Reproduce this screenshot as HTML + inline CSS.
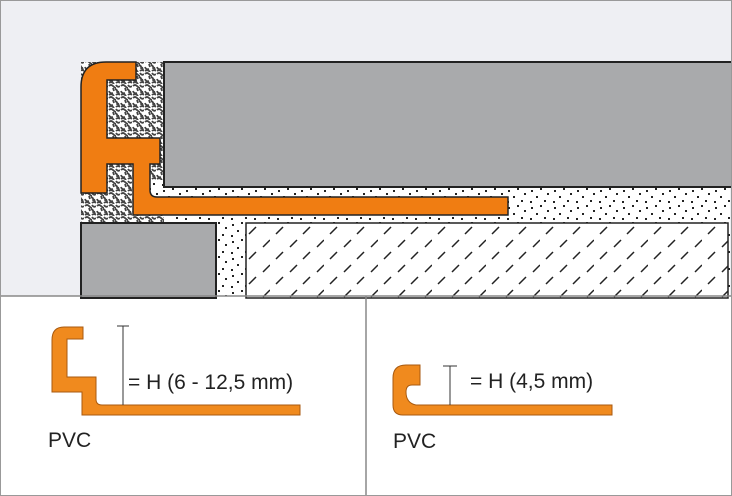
<!DOCTYPE html>
<html><head><meta charset="utf-8"><style>
html,body{margin:0;padding:0;background:#fff}
svg{display:block}
text{font-family:"Liberation Sans",Arial,sans-serif;fill:#222}
</style></head><body>
<svg width="732" height="496" viewBox="0 0 732 496" xmlns="http://www.w3.org/2000/svg">
<defs>
<pattern id="sq" width="12" height="12" patternUnits="userSpaceOnUse">
<rect width="12" height="12" fill="#fff"/>
<g stroke="#444" stroke-width="1.8" fill="none">
<path d="M1 2 q2 -2 4 0 t3 2"/><path d="M8 1 q2 3 4 1"/><path d="M1 7 q1 3 4 2"/><path d="M7 5 q3 1 2 4"/><path d="M1 11 q3 -2 5 1"/><path d="M8 11 q2 -2 4 0"/><path d="M5 4 l1 3"/><path d="M10 7 l1 3"/>
</g></pattern>
<pattern id="dt" width="23" height="17" patternUnits="userSpaceOnUse">
<rect width="23" height="17" fill="#fff"/>
<g fill="#222"><rect x="2" y="3" width="2" height="2"/><rect x="11" y="1" width="2" height="2"/><rect x="18" y="6" width="2" height="2"/><rect x="7" y="9" width="2" height="2"/><rect x="15" y="13" width="2" height="2"/><rect x="1" y="14" width="2" height="2"/></g></pattern>
<pattern id="ht" width="54" height="25" patternUnits="userSpaceOnUse">
<rect width="54" height="25" fill="#fff"/>
<g stroke="#222" stroke-width="1.5"><path d="M6 9 l7 -7"/><path d="M33 9 l7 -7"/><path d="M20 22 l7 -7"/><path d="M47 22 l7 -7"/></g></pattern>
</defs>
<rect width="732" height="496" fill="#fff"/>
<rect x="0" y="0" width="732" height="296" fill="#eeeff3"/>
<rect x="133" y="180" width="597" height="116" fill="url(#dt)"/>
<rect x="81" y="62" width="83" height="161" fill="url(#sq)"/>
<rect x="150" y="180" width="14" height="17" fill="url(#dt)"/>
<rect x="164" y="62" width="570" height="125" fill="#a9aaac" stroke="#222" stroke-width="2"/>
<rect x="81" y="223" width="135" height="75" fill="#a9aaac" stroke="#222" stroke-width="2"/>
<rect x="246" y="223" width="482" height="75" fill="url(#ht)" stroke="#222" stroke-width="1.5"/>
<path d="M106 62 H136 V80 H107 V138 H160 V164 H150 V190 Q150 197 157 197 H508 V215 H133 V164 H107 V193 H81 V87 Q81 62 106 62 Z" fill="#f07d12" stroke="#222" stroke-width="1.5"/>
<line x1="0" y1="296" x2="732" y2="296" stroke="#888" stroke-width="1.5"/>
<line x1="366" y1="296" x2="366" y2="496" stroke="#888" stroke-width="1.5"/>
<rect x="0.5" y="0.5" width="731" height="495" fill="none" stroke="#999" stroke-width="1"/>
<path d="M64 327 H83 V339 H67 V377 H96 V399 Q96 405 102 405 H300 V415 H82 V392 H52 V340 Q52 327 64 327 Z" fill="#f08a1e" stroke="#a85a10" stroke-width="1"/>
<g stroke="#333" stroke-width="1"><line x1="123" y1="326" x2="123" y2="405"/><line x1="117" y1="326" x2="129" y2="326"/></g>
<text x="128" y="389" font-size="21">= H (6 - 12,5 mm)</text>
<text x="48" y="447" font-size="21">PVC</text>
<path d="M406 365 H420 V385 H412 Q406 385 406 392 Q406 403 416 405 H612 V415 H403 Q393 415 393 405 V378 Q393 365 406 365 Z" fill="#f08a1e" stroke="#a85a10" stroke-width="1"/>
<g stroke="#333" stroke-width="1"><line x1="450" y1="366" x2="450" y2="405"/><line x1="443" y1="366" x2="457" y2="366"/></g>
<text x="470" y="388" font-size="21">= H (4,5 mm)</text>
<text x="393" y="448" font-size="21">PVC</text>
</svg>
</body></html>
